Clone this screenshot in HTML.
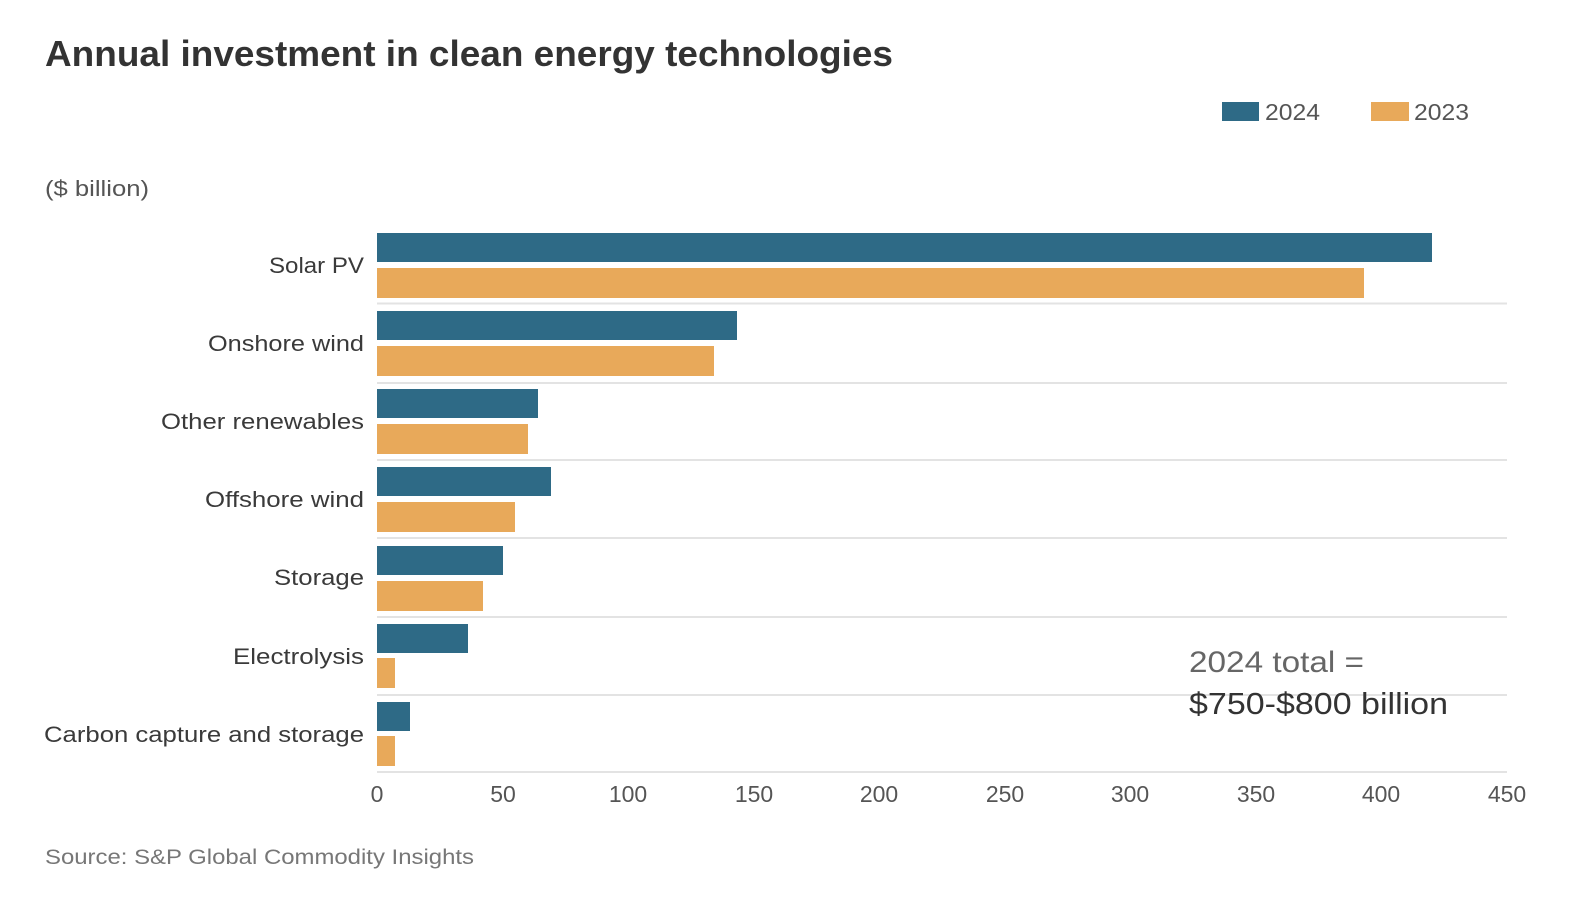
<!DOCTYPE html>
<html><head><meta charset="utf-8"><style>
html,body{margin:0;padding:0;background:#fff;}
svg{display:block;font-family:"Liberation Sans",sans-serif;}
</style></head><body>
<svg width="1596" height="910" viewBox="0 0 1596 910" xmlns="http://www.w3.org/2000/svg">
<text x="45" y="66" font-size="36" font-weight="bold" fill="#333" textLength="848" lengthAdjust="spacingAndGlyphs">Annual investment in clean energy technologies</text>
<rect x="1222" y="102" width="37" height="19" fill="#2e6a86"/>
<text x="1265" y="120" font-size="23" fill="#555" textLength="55" lengthAdjust="spacingAndGlyphs">2024</text>
<rect x="1371" y="102" width="38" height="19" fill="#e8a95a"/>
<text x="1414" y="120" font-size="23" fill="#555" textLength="55" lengthAdjust="spacingAndGlyphs">2023</text>
<text x="45" y="196" font-size="22" fill="#555" textLength="104" lengthAdjust="spacingAndGlyphs">($ billion)</text>
<g stroke="#e3e3e3" stroke-width="2">
<line x1="377" x2="1507" y1="303.5" y2="303.5"/>
<line x1="377" x2="1507" y1="383" y2="383"/>
<line x1="377" x2="1507" y1="460" y2="460"/>
<line x1="377" x2="1507" y1="538" y2="538"/>
<line x1="377" x2="1507" y1="617" y2="617"/>
<line x1="377" x2="1507" y1="695" y2="695"/>
<line x1="377" x2="1507" y1="772" y2="772"/>
</g>
<g>
<rect x="377" y="233" width="1055" height="29" fill="#2e6a86"/>
<rect x="377" y="268" width="987" height="30" fill="#e8a95a"/>
<rect x="377" y="311" width="360" height="29" fill="#2e6a86"/>
<rect x="377" y="346" width="337" height="30" fill="#e8a95a"/>
<rect x="377" y="389" width="161" height="29" fill="#2e6a86"/>
<rect x="377" y="424" width="151" height="30" fill="#e8a95a"/>
<rect x="377" y="467" width="174" height="29" fill="#2e6a86"/>
<rect x="377" y="502" width="138" height="30" fill="#e8a95a"/>
<rect x="377" y="546" width="126" height="29" fill="#2e6a86"/>
<rect x="377" y="581" width="106" height="30" fill="#e8a95a"/>
<rect x="377" y="624" width="91" height="29" fill="#2e6a86"/>
<rect x="377" y="658" width="18" height="30" fill="#e8a95a"/>
<rect x="377" y="702" width="33" height="29" fill="#2e6a86"/>
<rect x="377" y="736" width="18" height="30" fill="#e8a95a"/>
</g>
<g font-size="22" fill="#3a3a3a" text-anchor="end">
<text x="364" y="273" textLength="95" lengthAdjust="spacingAndGlyphs">Solar PV</text>
<text x="364" y="351" textLength="156" lengthAdjust="spacingAndGlyphs">Onshore wind</text>
<text x="364" y="429" textLength="203" lengthAdjust="spacingAndGlyphs">Other renewables</text>
<text x="364" y="507" textLength="159" lengthAdjust="spacingAndGlyphs">Offshore wind</text>
<text x="364" y="585" textLength="90" lengthAdjust="spacingAndGlyphs">Storage</text>
<text x="364" y="664" textLength="131" lengthAdjust="spacingAndGlyphs">Electrolysis</text>
<text x="364" y="742" textLength="320" lengthAdjust="spacingAndGlyphs">Carbon capture and storage</text>
</g>
<g font-size="23" fill="#555" text-anchor="middle">
<text x="377" y="802">0</text>
<text x="503" y="802">50</text>
<text x="628" y="802">100</text>
<text x="754" y="802">150</text>
<text x="879" y="802">200</text>
<text x="1005" y="802">250</text>
<text x="1130" y="802">300</text>
<text x="1256" y="802">350</text>
<text x="1381" y="802">400</text>
<text x="1507" y="802">450</text>
</g>
<text x="1189" y="672" font-size="30" fill="#666" textLength="175" lengthAdjust="spacingAndGlyphs">2024 total =</text>
<text x="1189" y="714" font-size="31" fill="#333" textLength="259" lengthAdjust="spacingAndGlyphs">$750-$800 billion</text>
<text x="45" y="864" font-size="21" fill="#777" textLength="429" lengthAdjust="spacingAndGlyphs">Source: S&amp;P Global Commodity Insights</text>
</svg>
</body></html>
